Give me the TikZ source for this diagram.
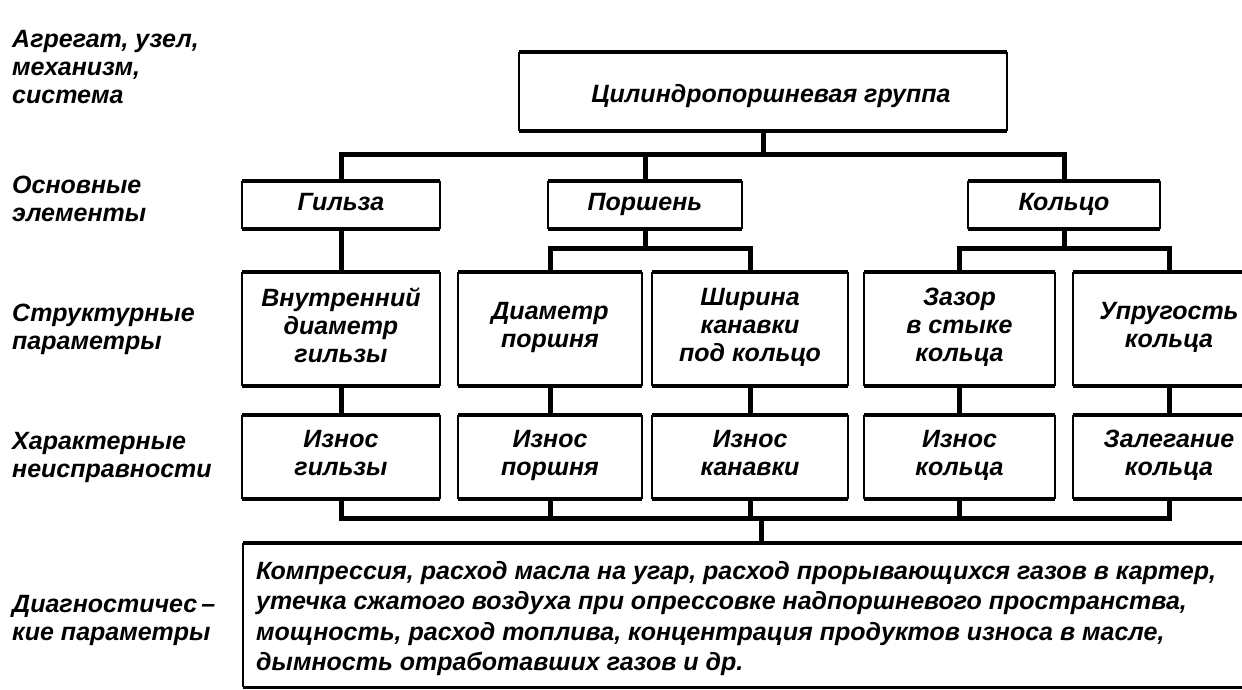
\documentclass[tikz,border=0pt]{standalone}
\usepackage{fontspec}
\setmainfont{Liberation Sans}
\newcommand{\txf}{\fontsize{25}{28}\selectfont\bfseries\itshape}
\newcommand{\txfb}{\fontsize{25}{30.5}\selectfont\bfseries\itshape}
\tikzset{
  lbl/.style={font=\txf, align=left, anchor=north west, inner sep=0pt,
    execute at begin node={\strut}, execute at end node={\strut}},
  bx/.style={rectangle, draw=none, inner sep=0pt, align=center, font=\txf,
    execute at begin node={\strut}, execute at end node={\strut}},
  edgeh/.style={line width=3.6pt, line cap=butt},
  edgev/.style={line width=2.2pt},
  bus/.style={line width=5pt, line join=miter},
}
\begin{document}
\begin{tikzpicture}[x=1pt,y=-1pt]
\useasboundingbox (0,0) rectangle (1242,689);
\clip (0,0) rectangle (1242,689);
\fill[white] (0,0) rectangle (1242,689);

% left labels
\node[lbl] (l1) at (12,30) {Агрегат, узел,\\механизм,\\система};
\node[lbl] (l2) at (12,176) {Основные\\элементы};
\node[lbl] (l3) at (12,304) {Структурные\\параметры};
\node[lbl] (l4) at (12,432) {Характерные\\неисправности};
\node[lbl] (l5) at (12,595) {Диагностичес\,--\\кие параметры};

% boxes
\node[bx, minimum width=488, minimum height=79] (top) at (763,91.5) {};
\node[bx] (toptxt) at (771,97) {Цилиндропоршневая группа};
\node[bx, minimum width=198, minimum height=48] (g) at (341,205) {Гильза};
\node[bx, minimum width=194, minimum height=48] (p) at (645,205) {Поршень};
\node[bx, minimum width=192, minimum height=48] (k) at (1064,205) {Кольцо};

\node[bx, minimum width=198, minimum height=114] (vnd) at (341,329) {Внутренний\\диаметр\\гильзы};
\node[bx, minimum width=184, minimum height=114] (dp) at (550,329) {Диаметр\\поршня};
\node[bx, minimum width=196, minimum height=114] (shk) at (750,329) {Ширина\\канавки\\под кольцо};
\node[bx, minimum width=191, minimum height=114] (zaz) at (959.5,329) {Зазор\\в стыке\\кольца};
\node[bx, minimum width=192, minimum height=114] (upr) at (1169,329) {Упругость\\кольца};

\node[bx, minimum width=198, minimum height=84] (ig) at (341,457) {Износ\\гильзы};
\node[bx, minimum width=184, minimum height=84] (ip) at (550,457) {Износ\\поршня};
\node[bx, minimum width=196, minimum height=84] (ik) at (750,457) {Износ\\канавки};
\node[bx, minimum width=191, minimum height=84] (ikl) at (959.5,457) {Износ\\кольца};
\node[bx, minimum width=192, minimum height=84] (zal) at (1169,457) {Залегание\\кольца};

\node[bx, minimum width=1010, minimum height=144, anchor=north west] (diag) at (243,543) {};
\node[bx, font=\txfb, align=left, anchor=north west] (diagtxt) at (256,561)
 {Компрессия, расход масла на угар, расход прорывающихся газов в картер,\\
  утечка сжатого воздуха при опрессовке надпоршневого пространства,\\
  мощность, расход топлива, концентрация продуктов износа в масле,\\
  дымность отработавших газов и др.};

\foreach \n in {top,g,p,k,vnd,dp,shk,zaz,upr,ig,ip,ik,ikl,zal,diag}{
  \draw[edgeh] (\n.north west) -- (\n.north east) (\n.south west) -- (\n.south east);
  \draw[edgev] (\n.north west) -- (\n.south west) (\n.north east) -- (\n.south east);
}

% connectors
\coordinate (b1) at (0,154);
\coordinate (b2) at (0,248);
\coordinate (b3) at (0,518);
\coordinate (s) at (761,518);
\draw[bus] (top.south) -- (top.south |- b1);
\draw[bus] (g.north) |- (k.north |- b1) -- (k.north);
\draw[bus] (p.north) -- (p.north |- b1);
\draw[bus] (g.south) -- (vnd.north);
\draw[bus] (p.south) -- (p.south |- b2);
\draw[bus] (dp.north) |- (shk.north |- b2) -- (shk.north);
\draw[bus] (k.south) -- (k.south |- b2);
\draw[bus] (zaz.north) |- (upr.north |- b2) -- (upr.north);
\draw[bus] (vnd.south) -- (ig.north);
\draw[bus] (dp.south) -- (ip.north);
\draw[bus] (shk.south) -- (ik.north);
\draw[bus] (zaz.south) -- (ikl.north);
\draw[bus] (upr.south) -- (zal.north);
\draw[bus] (ig.south) |- (zal.south |- b3) -- (zal.south);
\draw[bus] (ip.south) -- (ip.south |- b3);
\draw[bus] (ik.south) -- (ik.south |- b3);
\draw[bus] (ikl.south) -- (ikl.south |- b3);
\draw[bus] (s) -- (s |- diag.north);
\end{tikzpicture}
\end{document}
